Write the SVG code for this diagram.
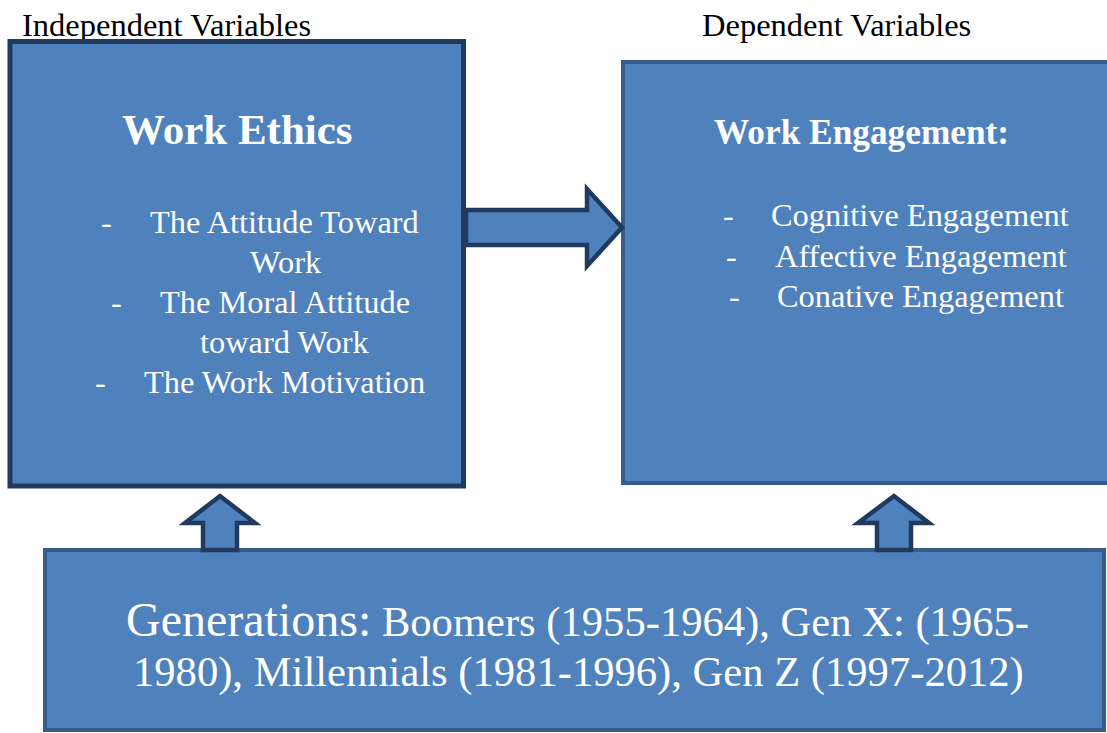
<svg xmlns="http://www.w3.org/2000/svg" width="1107" height="733" viewBox="0 0 1107 733">
<style>
.box{fill:#4F81BD;}
.dark{stroke:#1F3A5C;stroke-width:5;}
.mid{stroke:#385D8A;stroke-width:4;}
.arrow{fill:#4F81BD;stroke:#1F3A5C;stroke-width:4.5;stroke-linejoin:miter;}
text{font-family:'Liberation Serif','Times New Roman','DejaVu Serif',serif;}
.hdr{font-size:32.5px;fill:#000;}
.w{font-size:32.4px;fill:#fff;}
.wb{font-weight:bold;fill:#fff;}
.gen{font-size:42.6px;fill:#fff;}
</style>
<rect width="1107" height="733" fill="#fff"/>
<text class="hdr" x="22" y="36">Independent Variables</text>
<text class="hdr" x="702" y="36">Dependent Variables</text>

<g id="work-ethics">
<rect class="box dark" x="10" y="41.5" width="453.5" height="444.5"/>
<text class="wb" x="122" y="144" font-size="43">Work Ethics</text>
<text class="w" x="101" y="233">-</text>
<text class="w" x="150" y="233">The Attitude Toward</text>
<text class="w" x="250" y="273">Work</text>
<text class="w" x="111" y="313">-</text>
<text class="w" x="160" y="313">The Moral Attitude</text>
<text class="w" x="200" y="353">toward Work</text>
<text class="w" x="95" y="393">-</text>
<text class="w" x="144" y="393">The Work Motivation</text>
</g>

<g id="work-engagement">
<rect class="box mid" x="623" y="62" width="500" height="421"/>
<text class="wb" x="714" y="144" font-size="35.3">Work Engagement:</text>
<text class="w" x="723" y="226">-</text>
<text class="w" x="771" y="226">Cognitive Engagement</text>
<text class="w" x="726" y="267">-</text>
<text class="w" x="775" y="267">Affective Engagement</text>
<text class="w" x="729" y="307">-</text>
<text class="w" x="777" y="307">Conative Engagement</text>
</g>

<g id="generations">
<rect class="box mid" x="45" y="550" width="1059" height="180"/>
<text class="gen" x="126" y="636"><tspan font-size="48">Generations:</tspan> Boomers (1955-1964), Gen X: (1965-</text>
<text class="gen" x="133" y="686">1980), Millennials (1981-1996), Gen Z (1997-2012)</text>
</g>

<g id="connectors">
<path class="arrow" d="M466,210 L587,210 L587,189 L622,227.5 L587,266 L587,245 L466,245 Z"/>
<path class="arrow" d="M203,550 L203,523 L185,523 L220,496 L255,523 L237,523 L237,550 Z"/>
<path class="arrow" d="M877,550 L877,523 L858,523 L894,496 L929,523 L911,523 L911,550 Z"/>
</g>
</svg>
